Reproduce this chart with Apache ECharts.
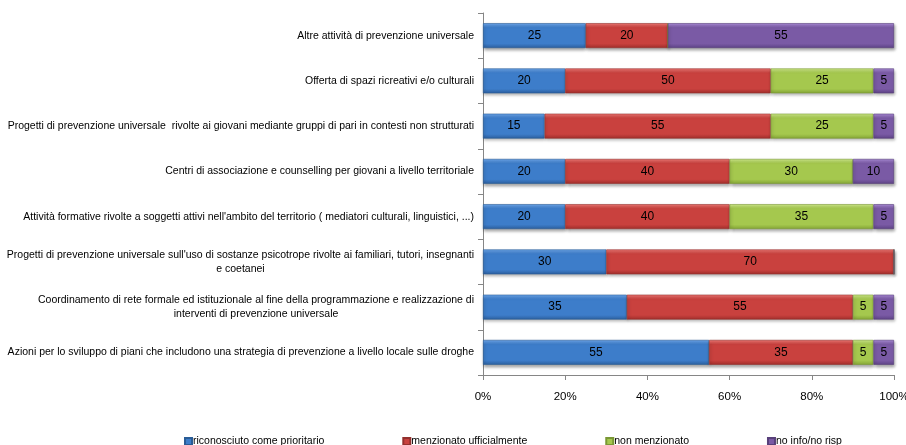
<!DOCTYPE html>
<html>
<head>
<meta charset="utf-8">
<script src="https://cdn.jsdelivr.net/npm/echarts@6/dist/echarts.min.js"></script>
<style>html,body{margin:0;padding:0;background:#fff}#c{width:906px;height:445px}</style>
</head>
<body>
<div id="c"></div>
<script>
// categories from bottom to top
const categories = [
  "Azioni per lo sviluppo di piani che includono una strategia di prevenzione a livello locale sulle droghe",
  "Coordinamento di rete formale ed istituzionale al fine della programmazione e realizzazione di\ninterventi di prevenzione universale",
  "Progetti di prevenzione universale sull'uso di sostanze psicotrope rivolte ai familiari, tutori, insegnanti\ne coetanei",
  "Attività formative rivolte a soggetti attivi nell'ambito del territorio ( mediatori culturali, linguistici, ...)",
  "Centri di associazione e counselling per giovani a livello territoriale",
  "Progetti di prevenzione universale  rivolte ai giovani mediante gruppi di pari in contesti non strutturati",
  "Offerta di spazi ricreativi e/o culturali",
  "Altre attività di prevenzione universale"
];
const seriesNames = ["riconosciuto come prioritario", "menzionato ufficialmente", "non menzionato", "no info/no risp"];
const riconosciuto = [55, 35, 30, 20, 20, 15, 20, 25];
const menzionato   = [35, 55, 70, 40, 40, 55, 50, 20];
const nonMenzionato= [5, 5, 0, 35, 30, 25, 25, 0];
const noInfo       = [5, 5, 0, 5, 10, 5, 5, 55];
const xTicks = [0, 20, 40, 60, 80, 100];

const palettes = [
  {top:'#6FAAF0', mid:'#3D7DCA', bot:'#2C5F9E', border:'#2A5C96'},
  {top:'#F47A76', mid:'#C9413E', bot:'#A02E2B', border:'#93302D'},
  {top:'#D2EE8C', mid:'#A5C84E', bot:'#84A536', border:'#7A9834'},
  {top:'#AE8EDC', mid:'#7A5AA5', bot:'#5E4386', border:'#58407A'}
];
function grad(p){
  return new echarts.graphic.LinearGradient(0,0,0,1,[
    {offset:0,color:p.top},{offset:0.18,color:p.mid},{offset:0.82,color:p.mid},{offset:1,color:p.bot}
  ]);
}
const font = '"Liberation Sans", Arial, sans-serif';
const fs = 10.5;
const dataArr = [riconosciuto, menzionato, nonMenzionato, noInfo];

const chart = echarts.init(document.getElementById('c'), null, {renderer:'canvas'});
chart.setOption({
  animation:false,
  textStyle:{fontFamily:font},
  grid:{left:483, right:12, top:13, bottom:70, containLabel:false, outerBoundsMode:'none'},
  xAxis:{
    type:'value', min:0, max:100, interval:20,
    axisLine:{show:true, lineStyle:{color:'#868686'}},
    axisTick:{show:true, length:5, lineStyle:{color:'#868686'}},
    splitLine:{show:false},
    axisLabel:{formatter: v => xTicks.includes(v) ? v + '%' : '', color:'#000', fontSize:11.5, margin:16, fontFamily:font}
  },
  yAxis:{
    type:'category', data:categories,
    axisLine:{show:true, lineStyle:{color:'#868686'}},
    axisTick:{show:true, length:5, lineStyle:{color:'#868686'}},
    axisLabel:{
      color:'#000', fontSize:fs, margin:9, fontFamily:font, lineHeight:14,
      formatter: v => v.split('\n').map(s => '{a|' + s + '}').join('\n'),
      rich:{a:{align:'center', fontSize:fs, fontFamily:font, color:'#000', lineHeight:14}}
    }
  },
  legend:{
    top:431, left:179, icon:'rect', itemWidth:7, itemHeight:7, itemGap:78,
    textStyle:{fontSize:fs, color:'#000', fontFamily:font, padding:[0,0,0,-4]},
    data:seriesNames
  },
  series: seriesNames.map((n,i)=>({
    name:n, type:'bar', stack:'tot', barCategoryGap:'45%',
    data:dataArr[i],
    itemStyle:{color:grad(palettes[i]), borderColor:palettes[i].border, borderWidth:0.6,
      shadowColor:'rgba(0,0,0,0.35)', shadowBlur:3, shadowOffsetY:2, shadowOffsetX:1},
    label:{show:true, position:'inside', color:'#000', fontSize:12, fontFamily:font,
      formatter: p => p.value ? String(p.value) : ''}
  }))
});
</script>
</body>
</html>
